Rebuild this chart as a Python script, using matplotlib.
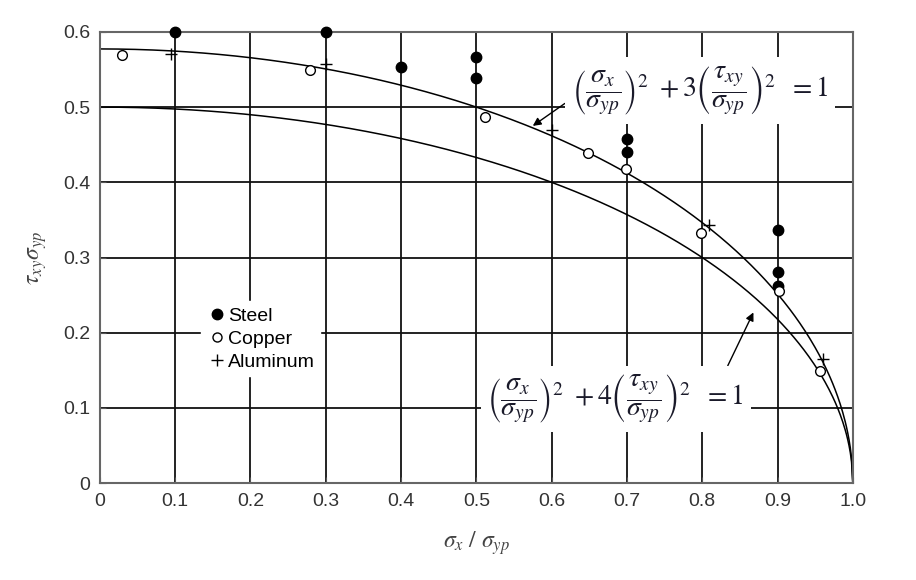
import numpy as np
import matplotlib
matplotlib.use("Agg")
from matplotlib import pyplot as plt
from matplotlib.lines import Line2D

plt.rcParams['mathtext.fontset'] = 'stix'
plt.rcParams['font.family'] = ['Liberation Sans', 'DejaVu Sans']

# test data (sigma_x/sigma_yp, tau_xy/sigma_yp)
steel_x = [0.1, 0.3, 0.4, 0.5, 0.5, 0.7, 0.7, 0.9, 0.9, 0.9]
steel_y = [0.6, 0.6, 0.553, 0.567, 0.539, 0.458, 0.44, 0.337, 0.281, 0.262]
copper_x = [0.029, 0.279, 0.512, 0.648, 0.699, 0.799, 0.902, 0.956]
copper_y = [0.569, 0.549, 0.487, 0.439, 0.418, 0.333, 0.255, 0.149]
alu_x = [0.095, 0.30, 0.60, 0.809, 0.96]
alu_y = [0.570, 0.557, 0.469, 0.343, 0.165]

# yield criteria: (sx/syp)^2 + k (txy/syp)^2 = 1
k_vals = [3, 4]
xticks = [0, 0.1, 0.2, 0.3, 0.4, 0.5, 0.6, 0.7, 0.8, 0.9, 1.0]
xticklabels = ['0', '0.1', '0.2', '0.3', '0.4', '0.5', '0.6', '0.7', '0.8', '0.9', '1.0']
yticks = [0, 0.1, 0.2, 0.3, 0.4, 0.5, 0.6]
yticklabels = ['0', '0.1', '0.2', '0.3', '0.4', '0.5', '0.6']

fig = plt.figure(figsize=(9.16, 5.8), dpi=100)
ax = fig.add_axes([0.109, 0.167, 0.822, 0.778])

ax.set_axisbelow(True)
ax.grid(True, color='#111111', lw=1.3)

x = np.linspace(0, 1, 600)
for k in k_vals:
    ax.plot(x, np.sqrt((1 - x**2) / k), color='black', lw=1.1, zorder=2)

ax.plot(steel_x, steel_y, 'o', ms=7.5, mfc='black', mec='black', zorder=4, clip_on=False)
ax.plot(copper_x, copper_y, 'o', ms=7, mfc='white', mec='black', mew=1.0, zorder=4)
ax.plot(alu_x, alu_y, '+', ms=8, mec='black', mew=1.0, zorder=4)

ax.set_xlim(0, 1.0)
ax.set_ylim(0, 0.6)
ax.set_xticks(xticks)
ax.set_xticklabels(xticklabels)
ax.set_yticks(yticks)
ax.set_yticklabels(yticklabels)
ax.tick_params(direction='in', length=4, labelsize=14, labelcolor='#333333', color='#555555', pad=7)
for s in ax.spines.values():
    s.set_color('#666666')
    s.set_linewidth(1.5)

ax.set_xlabel(r'$\sigma_x\ /\ \sigma_{yp}$', fontsize=17, color='#444444', labelpad=14)
ax.set_ylabel(r'$\tau_{xy}\sigma_{yp}$', fontsize=17, color='#444444', labelpad=10)

handles = [Line2D([], [], ls='', marker='o', ms=7.5, mfc='black', mec='black'),
           Line2D([], [], ls='', marker='o', ms=6.5, mfc='white', mec='black'),
           Line2D([], [], ls='', marker='+', ms=8.5, mec='black')]
ax.legend(handles, ['Steel', 'Copper', 'Aluminum'], loc='upper left',
          bbox_to_anchor=(0.122, 0.255), bbox_transform=ax.transData,
          frameon=True, framealpha=1, edgecolor='white', facecolor='white',
          fontsize=14, handletextpad=0.05, handlelength=1.0, labelspacing=0.28,
          borderpad=0.3, fancybox=False)

eq3 = r'$\left(\dfrac{\sigma_x}{\sigma_{yp}}\right)^2\ +3\left(\dfrac{\tau_{xy}}{\sigma_{yp}}\right)^2\ \ =1$'
eq4 = r'$\left(\dfrac{\sigma_x}{\sigma_{yp}}\right)^2\ +4\left(\dfrac{\tau_{xy}}{\sigma_{yp}}\right)^2\ \ =1$'
bb = dict(boxstyle='square,pad=0.25', fc='white', ec='none')
ax.annotate(eq3, xy=(0.575, 0.475), xytext=(0.797, 0.522), fontsize=20, color='#1a1a2a',
            ha='center', va='center', bbox=bb, zorder=5,
            arrowprops=dict(arrowstyle='-|>', color='black', lw=1.0, mutation_scale=12,
                            shrinkA=0, shrinkB=0, relpos=(0.03, 0.45)))
ax.annotate(eq4, xy=(0.868, 0.227), xytext=(0.685, 0.112), fontsize=20, color='#1a1a2a',
            ha='center', va='center', bbox=bb, zorder=5,
            arrowprops=dict(arrowstyle='-|>', color='black', lw=1.0, mutation_scale=12,
                            shrinkA=0, shrinkB=0, relpos=(0.9, 0.75)))

fig.savefig('out.png', dpi=100)
